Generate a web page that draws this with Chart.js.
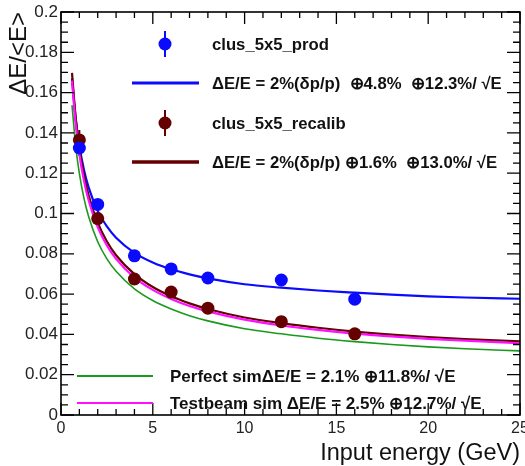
<!DOCTYPE html>
<html>
<head>
<meta charset="utf-8">
<script src="https://cdn.jsdelivr.net/npm/chart.js@4.4.1/dist/chart.umd.min.js"></script>
<style>
  html, body { margin: 0; padding: 0; background: #fff; }
  #wrap { position: relative; width: 525px; height: 466px; }
</style>
</head>
<body>
<div id="wrap"><canvas id="chart" width="525" height="466"></canvas></div>
<script>
// ---------- data ----------
const energies = [1, 2, 4, 6, 8, 12, 16];
const prodRes = [0.1325, 0.1045, 0.079, 0.0725, 0.068, 0.067, 0.0575];
const prodErr = [0.004, 0.002, 0.0015, 0.0015, 0.0015, 0.0015, 0.0015];
const recalibRes = [0.1365, 0.0975, 0.0675, 0.061, 0.053, 0.0463, 0.0403];
const recalibErr = [0.005, 0.002, 0.0015, 0.0015, 0.0015, 0.0015, 0.0015];

const fitE = [0.6, 0.8, 1, 1.25, 1.5, 2, 2.5, 3, 4, 5, 6, 7, 8, 10, 12, 14, 16, 18, 20, 22, 25];
const prodFit = [0.1671, 0.1470, 0.1335, 0.1217, 0.1131, 0.1013, 0.0936, 0.0880, 0.0805, 0.0757, 0.0723, 0.0698, 0.0678, 0.0649, 0.0632, 0.0618, 0.0607, 0.0597, 0.0589, 0.0583, 0.0577];
const recalibFit = [0.1698, 0.1476, 0.1325, 0.1191, 0.1092, 0.0954, 0.0861, 0.0793, 0.0699, 0.0635, 0.0589, 0.0554, 0.0526, 0.0484, 0.0456, 0.0433, 0.0414, 0.0399, 0.0387, 0.0377, 0.0366];
const testbeamFit = [0.1659, 0.1442, 0.1294, 0.1163, 0.1067, 0.0932, 0.0841, 0.0775, 0.0682, 0.0621, 0.0576, 0.0541, 0.0514, 0.0473, 0.0444, 0.0422, 0.0404, 0.0390, 0.0378, 0.0369, 0.0356];
const perfectFit = [0.1538, 0.1336, 0.1199, 0.1076, 0.0986, 0.0860, 0.0775, 0.0713, 0.0626, 0.0568, 0.0526, 0.0493, 0.0467, 0.0428, 0.0403, 0.0381, 0.0364, 0.0350, 0.0338, 0.0329, 0.0318];

const seriesNames = ["clus_5x5_prod", "clus_5x5_recalib"];
const fitLabels = [
  "\u0394E/E = 2%(\u03b4p/p)  \u22954.8%  \u229512.3%/ \u221aE",
  "\u0394E/E = 2%(\u03b4p/p) \u22951.6%  \u229513.0%/ \u221aE"
];
const simLabels = [
  "Perfect sim\u0394E/E = 2.1% \u229511.8%/ \u221aE",
  "Testbeam sim \u0394E/E = 2.5% \u229512.7%/ \u221aE"
];

const BLUE = "#0a0aff";
const BROWN = "#650000";
const GREEN = "#1a9a1a";
const MAGENTA = "#ff10ff";
const FONT = "'Liberation Sans', Arial, Helvetica, sans-serif";

function pts(xs, ys) { return xs.map((x, i) => ({ x: x, y: ys[i] })); }

// ---------- frame + ROOT style ticks ----------
const frameTicks = {
  id: "frameTicks",
  afterDatasetsDraw(chart) {
    const { ctx, chartArea: a, scales: { x, y } } = chart;
    ctx.save();
    ctx.strokeStyle = "#000";
    ctx.lineWidth = 1.3;
    ctx.beginPath();
    for (let v = 0; v <= 25; v++) {
      const px = x.getPixelForValue(v);
      const len = v % 5 === 0 ? 12 : 6;
      ctx.moveTo(px, a.bottom); ctx.lineTo(px, a.bottom - len);
      ctx.moveTo(px, a.top); ctx.lineTo(px, a.top + len);
    }
    for (let i = 0; i <= 40; i++) {
      const py = y.getPixelForValue(i * 0.005);
      const len = i % 4 === 0 ? 13 : 7;
      ctx.moveTo(a.left, py); ctx.lineTo(a.left + len, py);
      ctx.moveTo(a.right, py); ctx.lineTo(a.right - len, py);
    }
    ctx.stroke();
    ctx.lineWidth = 1.6;
    ctx.strokeRect(a.left, a.top, a.right - a.left, a.bottom - a.top);
    ctx.restore();
  }
};

// ---------- vertical error bars ----------
const errorBars = {
  id: "errorBars",
  beforeDatasetsDraw(chart) {
    const { ctx, scales: { x, y } } = chart;
    ctx.save();
    ctx.lineWidth = 2;
    [[prodRes, prodErr, BLUE], [recalibRes, recalibErr, BROWN]].forEach(([vals, errs, col]) => {
      ctx.strokeStyle = col;
      ctx.beginPath();
      energies.forEach((e, i) => {
        const px = x.getPixelForValue(e);
        ctx.moveTo(px, y.getPixelForValue(vals[i] - errs[i]));
        ctx.lineTo(px, y.getPixelForValue(vals[i] + errs[i]));
      });
      ctx.stroke();
    });
    ctx.restore();
  }
};

// ---------- legends ----------
const rootLegend = {
  id: "rootLegend",
  afterDraw(chart) {
    const ctx = chart.ctx;
    ctx.save();
    ctx.textBaseline = "middle";

    const marker = (cx, cy, col) => {
      ctx.strokeStyle = col; ctx.lineWidth = 2;
      ctx.beginPath(); ctx.moveTo(cx, cy - 13); ctx.lineTo(cx, cy + 13); ctx.stroke();
      ctx.fillStyle = col;
      ctx.beginPath(); ctx.arc(cx, cy, 6.5, 0, Math.PI * 2); ctx.fill();
    };
    const line = (x0, x1, yy, col, w) => {
      ctx.strokeStyle = col; ctx.lineWidth = w;
      ctx.beginPath(); ctx.moveTo(x0, yy); ctx.lineTo(x1, yy); ctx.stroke();
    };

    // top box
    marker(165, 44, BLUE);
    line(132, 199, 83, BLUE, 3);
    marker(165, 123, BROWN);
    line(132, 199, 162, BROWN, 3.5);

    ctx.fillStyle = "#111";
    ctx.font = "bold 16.7px " + FONT;
    ctx.fillText(seriesNames[0], 212, 45);
    ctx.fillText(fitLabels[0], 212, 84);
    ctx.fillText(seriesNames[1], 212, 124);
    ctx.fillText(fitLabels[1], 212, 163);

    // bottom box
    line(77, 153, 376, GREEN, 1.8);
    line(77, 153, 403, MAGENTA, 2.2);
    ctx.fillStyle = "#111";
    ctx.font = "bold 17px " + FONT;
    ctx.fillText(simLabels[0], 170, 377);
    ctx.fillText(simLabels[1], 170, 404);
    ctx.restore();
  }
};

const ctx = document.getElementById("chart");
new Chart(ctx, {
  type: "line",
  data: {
    datasets: [
      { data: pts(energies, prodRes), showLine: false, pointRadius: 6.5, pointHoverRadius: 6.5,
        pointBackgroundColor: BLUE, pointBorderWidth: 0, borderColor: BLUE, order: 0 },
      { data: pts(energies, recalibRes), showLine: false, pointRadius: 6.5, pointHoverRadius: 6.5,
        pointBackgroundColor: BROWN, pointBorderWidth: 0, borderColor: BROWN, order: 0 },
      { data: pts(fitE, testbeamFit), borderColor: MAGENTA, borderWidth: 2.2, pointRadius: 0,
        cubicInterpolationMode: "monotone", order: 1 },
      { data: pts(fitE, recalibFit), borderColor: BROWN, borderWidth: 2.2, pointRadius: 0,
        cubicInterpolationMode: "monotone", order: 2 },
      { data: pts(fitE, perfectFit), borderColor: GREEN, borderWidth: 1.6, pointRadius: 0,
        cubicInterpolationMode: "monotone", order: 3 },
      { data: pts(fitE, prodFit), borderColor: BLUE, borderWidth: 2.2, pointRadius: 0,
        cubicInterpolationMode: "monotone", order: 4 }
    ]
  },
  options: {
    responsive: false,
    animation: false,
    events: [],
    layout: { autoPadding: false, padding: { top: 12, right: 5, left: 0, bottom: 0 } },
    plugins: { legend: { display: false }, tooltip: { enabled: false } },
    scales: {
      x: {
        type: "linear", min: 0, max: 25,
        grid: { display: false, drawTicks: false },
        border: { display: false },
        ticks: { stepSize: 5, maxRotation: 0, autoSkip: false, padding: 4, color: "#222",
                 font: { family: FONT, size: 16 } },
        title: { display: true, text: "Input energy (GeV)", align: "end", color: "#111",
                 font: { family: FONT, size: 23.5, lineHeight: 1 }, padding: { top: 0, bottom: 1 } },
        afterFit: s => { s.height = 51; s.paddingLeft = 0; s.paddingRight = 0; }
      },
      y: {
        type: "linear", min: 0, max: 0.2,
        grid: { display: false, drawTicks: false },
        border: { display: false },
        ticks: { stepSize: 0.02, padding: 3, color: "#222", font: { family: FONT, size: 17 },
                 callback: v => String(Number(v.toFixed(3))) },
        title: { display: true, text: "\u0394E/<E>", align: "end", color: "#111",
                 font: { family: FONT, size: 24, lineHeight: 1 }, padding: { top: 7, bottom: 0 } },
        afterFit: s => { s.width = 61; s.paddingTop = 0; s.paddingBottom = 0; }
      }
    }
  },
  plugins: [errorBars, frameTicks, rootLegend]
});
</script>
</body>
</html>
